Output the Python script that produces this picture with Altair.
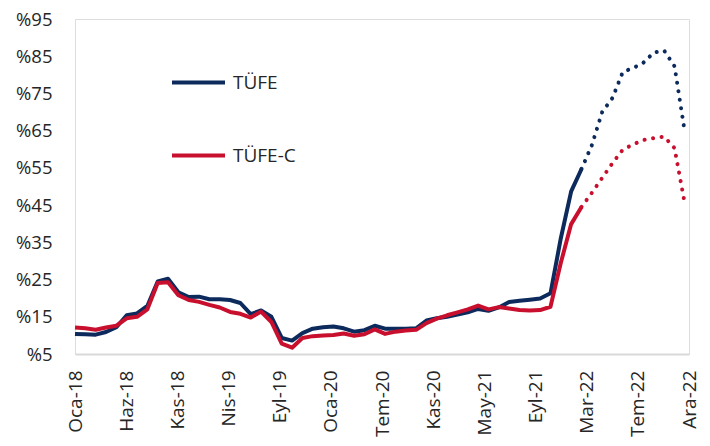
import altair as alt
import pandas as pd

tick_labels = ["Oca-18", "Haz-18", "Kas-18", "Nis-19", "Eyl-19", "Oca-20", "Tem-20",
               "Kas-20", "May-21", "Eyl-21", "Mar-22", "Tem-22", "Ara-22"]

series_names = ["TÜFE", "TÜFE-C"]
series_colors = ["#0d2a5c", "#c8102e"]

tufe = [10.4, 10.3, 10.2, 10.9, 12.2, 15.4, 15.9, 17.9, 24.5, 25.2, 21.6, 20.3,
        20.4, 19.7, 19.7, 19.5, 18.7, 15.7, 16.7, 15.0, 9.3, 8.6, 10.6, 11.8,
        12.2, 12.4, 11.9, 11.0, 11.4, 12.6, 11.8, 11.8, 11.8, 11.9, 14.0, 14.6,
        15.0, 15.6, 16.2, 17.1, 16.6, 17.5, 19.0, 19.3, 19.6, 19.9, 21.3, 36.1,
        48.7, 54.7, 61.1, 70.0, 73.8, 80.8, 81.8, 83.3, 86.0, 86.5, 82.3, 64.5]

tufe_c = [12.1, 11.9, 11.5, 12.1, 12.6, 14.6, 15.0, 17.0, 24.1, 24.3, 20.8, 19.5,
          19.0, 18.2, 17.5, 16.3, 15.8, 14.8, 16.4, 13.6, 7.8, 6.7, 9.3, 9.8,
          10.0, 10.1, 10.5, 9.9, 10.3, 11.6, 10.4, 11.0, 11.3, 11.5, 13.3, 14.5,
          15.4, 16.2, 17.0, 18.0, 17.0, 17.6, 17.2, 16.8, 16.7, 16.8, 17.7, 29.5,
          39.9, 44.5, 48.3, 52.3, 56.3, 59.9, 61.3, 62.5, 63.0, 63.4, 60.3, 45.3]

last_actual = 49  # index of Şub-22, last solid point

rows = []
for name, vals in zip(series_names, [tufe, tufe_c]):
    for i, v in enumerate(vals):
        if i <= last_actual:
            rows.append({"i": i, "v": v, "s": name, "p": "a"})
        if i >= last_actual:
            rows.append({"i": i, "v": v, "s": name, "p": "f"})
df = pd.DataFrame(rows)

x_max = 59.4
n_ticks = len(tick_labels)
tick_step = x_max / (n_ticks - 1)
tick_vals = [round(k * tick_step, 6) for k in range(n_ticks - 1)] + [x_max]
label_arr = "[" + ",".join("'" + t + "'" for t in tick_labels) + "]"

FONT = "Open Sans"

x_enc = alt.X("i:Q",
              scale=alt.Scale(domain=[0, x_max], nice=False, zero=False),
              axis=alt.Axis(values=tick_vals,
                            labelExpr=f"{label_arr}[round(datum.value / {tick_step})]",
                            labelAngle=-90, labelAlign="right", labelBaseline="middle",
                            labelPadding=16, ticks=False, grid=False,
                            domainColor="#d9d9d9", domainWidth=2,
                            labelFontSize=19, labelColor="#262626", labelFont=FONT,
                            title=None, labelOverlap=False, labelBound=False))
y_enc = alt.Y("v:Q",
              scale=alt.Scale(domain=[5, 95], nice=False, zero=False),
              axis=alt.Axis(values=list(range(5, 96, 10)),
                            labelExpr="'%' + datum.value",
                            ticks=False, grid=False, domain=False,
                            labelPadding=23, labelFontSize=18.5, labelColor="#262626",
                            labelFont=FONT, title=None))
color_enc = alt.Color("s:N",
                      scale=alt.Scale(domain=series_names, range=series_colors),
                      legend=alt.Legend(title=None, orient="none", legendX=95, legendY=35,
                                        direction="vertical", symbolType="stroke",
                                        symbolSize=2809, symbolStrokeWidth=4,
                                        labelFontSize=19, labelFont=FONT, labelColor="#262626",
                                        labelOffset=6, rowPadding=34, padding=0))

base = alt.Chart(df).encode(x=x_enc, y=y_enc, color=color_enc)

solid = base.transform_filter("datum.p == 'a'").mark_line(strokeWidth=4, strokeJoin="round")
dotted = base.transform_filter("datum.p == 'f'").mark_line(
    strokeWidth=4, strokeDash=[0.1, 8.5], strokeCap="round", strokeJoin="round")

chart = alt.layer(solid, dotted).properties(
    width=614, height=335,
    padding={"left": 67, "top": 11, "right": 13, "bottom": 84},
    autosize=alt.AutoSizeParams(type="none"),
).configure_view(stroke=None).configure(font=FONT)

chart.save("out.html", embed_options={"renderer": "svg", "actions": False})
